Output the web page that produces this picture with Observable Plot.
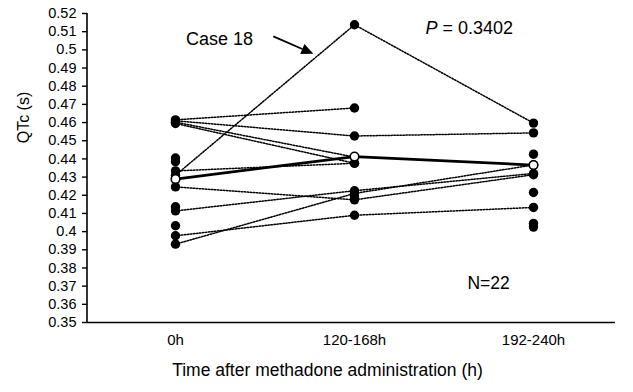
<!DOCTYPE html>
<html><head><meta charset="utf-8">
<script src="https://cdn.jsdelivr.net/npm/d3@7"></script>
<script src="https://cdn.jsdelivr.net/npm/@observablehq/plot@0.6"></script>
<style>
body{margin:0;background:#fff;}
#chart svg{font-family:"Liberation Sans",Arial,sans-serif;background:#fff;}
</style></head><body><div id="chart"></div>
<script>
// Categories (time points)
const times = ["0h", "120-168h", "192-240h"];
// Individual QTc values per patient (index-aligned; null = not visible / no line)
const qtc0h  = [0.4615, 0.461, 0.4602, 0.4595, 0.431, 0.4334, 0.4246, 0.4114, 0.3931, 0.3977, 0.4405, 0.4385, 0.4137, 0.4032, null];
const qtc120 = [0.468, 0.4526, 0.441, 0.4376, 0.5138, 0.4376, 0.4175, 0.4225, 0.421, 0.409, null, null, null, null, 0.419];
const qtc192 = [null, 0.4543, null, null, 0.4597, null, 0.4313, 0.432, 0.4367, 0.4133, 0.4426, 0.4215, 0.4045, 0.4025, null];
// Mean QTc
const meanQtc = [0.4289, 0.4413, 0.4366];
// Y tick labels
const yTicks = [0.35,0.36,0.37,0.38,0.39,0.40,0.41,0.42,0.43,0.44,0.45,0.46,0.47,0.48,0.49,0.50,0.51,0.52];
// Annotation anchors (data units: t = time index, v = QTc)
const caseLabel = {t: 0.246, v: 0.506, text: "Case 18"};
const caseArrow = {t1: 0.549, v1: 0.5071, t2: 0.773, v2: 0.4976};
const pLabel = {t: 1.397, t2: 1.492, v: 0.5121};
const nLabel = {t: 1.631, v: 0.3713, text: "N=22"};
const yTitle = {v: 0.4625, text: "QTc (s)"};
const xTitle = {t: 0.849, text: "Time after methadone administration (h)"};

const rows = qtc0h.flatMap((_, p) => [qtc0h[p], qtc120[p], qtc192[p]].map((v, t) => ({patient: p, t, qtc: v})));
const meanRows = meanQtc.map((v, t) => ({t, qtc: v}));

const yAxisLine = (index, {y}, values, dims) => {
  return d3.create("svg:line")
    .attr("x1", dims.marginLeft).attr("x2", dims.marginLeft)
    .attr("y1", y(yTicks[yTicks.length - 1])).attr("y2", y(yTicks[0]))
    .attr("stroke", "#000").attr("stroke-width", 1.6).node();
};
const yTitleMark = (index, {y}, values, dims) => {
  return d3.create("svg:text")
    .attr("transform", `translate(${dims.marginLeft - 64},${y(yTitle.v)}) rotate(-90)`)
    .attr("text-anchor", "middle").attr("dy", "0.35em")
    .attr("font-size", 16).attr("fill", "#000")
    .text(yTitle.text).node();
};
const arrowMark = (index, {x, y}) => {
  const x1 = x(caseArrow.t1), y1 = y(caseArrow.v1), x2 = x(caseArrow.t2), y2 = y(caseArrow.v2);
  const a = Math.atan2(y2 - y1, x2 - x1), L = 12, W = 5.5;
  const bx = x2 - L * Math.cos(a), by = y2 - L * Math.sin(a);
  const g = d3.create("svg:g");
  g.append("line").attr("x1", x1).attr("y1", y1).attr("x2", bx).attr("y2", by)
    .attr("stroke", "#000").attr("stroke-width", 1.8);
  g.append("path").attr("d", `M${x2},${y2}L${bx - W * Math.sin(a)},${by + W * Math.cos(a)}L${bx + W * Math.sin(a)},${by - W * Math.cos(a)}Z`)
    .attr("fill", "#000");
  return g.node();
};

const chart = Plot.plot({
  width: 633,
  height: 392,
  marginLeft: 87,
  marginRight: 18,
  marginTop: 13,
  marginBottom: 70,
  style: {fontFamily: "'Liberation Sans', Arial, sans-serif", background: "#fff", color: "#000"},
  x: {domain: [0, 2], range: [175, 533]},
  y: {domain: [0.35, 0.52]},
  marks: [
    Plot.axisY({ticks: yTicks, tickSize: 5, tickPadding: 6, tickFormat: d => String(+d.toFixed(2)), label: null, fontSize: 14.5, strokeWidth: 1.4}),
    Plot.axisX({ticks: [0, 1, 2], tickSize: 0, tickPadding: 12, tickFormat: i => times[i], label: null, fontSize: 15}),
    yAxisLine,
    Plot.ruleY([0.35], {stroke: "#000", strokeWidth: 1.6}),
    Plot.line(rows, {x: "t", y: "qtc", z: "patient", stroke: "#000", strokeWidth: 1.5, strokeDasharray: "1.5,1.5"}),
    Plot.line(meanRows, {x: "t", y: "qtc", stroke: "#000", strokeWidth: 2.8}),
    Plot.dot(rows.filter(d => d.qtc != null), {x: "t", y: "qtc", r: 4.7, fill: "#000", stroke: "none"}),
    Plot.dot(meanRows, {x: "t", y: "qtc", r: 4.3, fill: "#fff", stroke: "#000", strokeWidth: 1.6}),
    Plot.text([caseLabel], {x: "t", y: "v", text: "text", fontSize: 18, fill: "#000"}),
    arrowMark,
    Plot.text([pLabel], {x: "t", y: "v", text: () => "P", fontSize: 18, fontStyle: "italic", textAnchor: "start", fill: "#000"}),
    Plot.text([pLabel], {x: "t2", y: "v", text: () => "= 0.3402", fontSize: 18, textAnchor: "start", fill: "#000"}),
    Plot.text([nLabel], {x: "t", y: "v", text: "text", fontSize: 17.5, textAnchor: "start", fill: "#000"}),
    yTitleMark,
    Plot.text([xTitle], {frameAnchor: "bottom", x: "t", text: "text", dy: 53, fontSize: 17.5, fill: "#000"})
  ]
});
document.getElementById("chart").appendChild(chart);
</script>
</body></html>
